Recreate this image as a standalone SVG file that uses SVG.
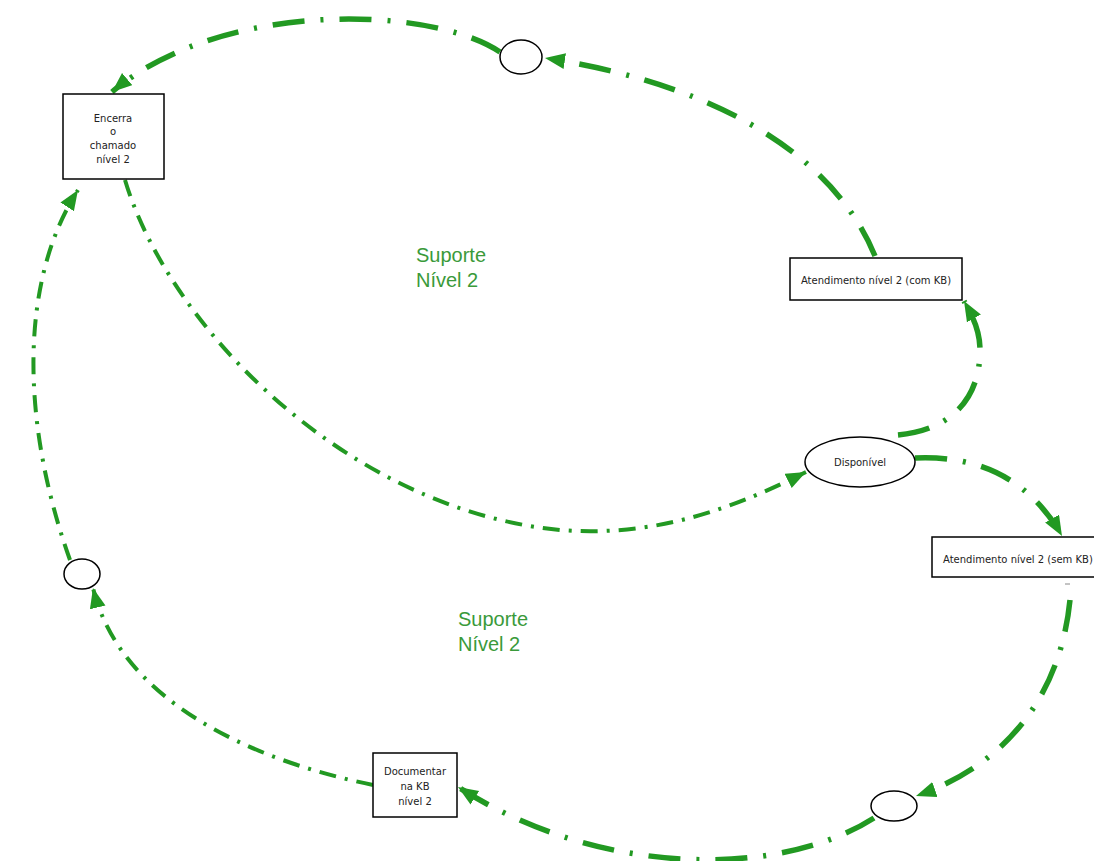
<svg xmlns="http://www.w3.org/2000/svg" width="1094" height="861" viewBox="0 0 1094 861">
  <style>
    .bg { fill: #ffffff; }
    .box { fill: #ffffff; stroke: #000000; stroke-width: 1.5; }
    .oval { fill: #ffffff; stroke: #000000; stroke-width: 1.5; }
    .lbl { font-family: "DejaVu Sans", "Liberation Sans", sans-serif; font-size: 10px; fill: #222222; text-anchor: middle; }
    .zone { font-family: "Liberation Sans", Arial, sans-serif; font-size: 20px; fill: #3a9a3a; }
    .link { fill: none; stroke: #229922; stroke-linecap: butt; marker-end: url(#head); }
    .thin { stroke-width: 4; stroke-dasharray: 17 9 3 9; }
    .thick { stroke-width: 5.5; stroke-dasharray: 32 16 3 16; }
  </style>
  <defs>
    <marker id="head" markerUnits="userSpaceOnUse" markerWidth="22" markerHeight="18" refX="20" refY="8" orient="auto">
      <path d="M0,0 L20,8 L0,16 z" fill="#229922"/>
    </marker>
  </defs>

  <rect class="bg" x="0" y="0" width="1094" height="861"/>

  <!-- zone captions -->
  <text class="zone" x="416" y="262">Suporte</text>
  <text class="zone" x="416" y="287">Nível 2</text>
  <text class="zone" x="458" y="626">Suporte</text>
  <text class="zone" x="458" y="651">Nível 2</text>

  <!-- connectors -->
  <g id="connectors">
    <path class="link thick" d="M875,256 C840,170 740,88 545,58"/>
    <path class="link thick" d="M500,52 C430,5 220,0 112,92"/>
    <path class="link thin" d="M125,180 C170,330 350,510 560,530 C660,538 740,505 806,472"/>
    <path class="link thick" d="M898,435 C950,430 980,400 980,350 C980,330 972,315 964,301"/>
    <path class="link thick" d="M915,458 C980,455 1030,480 1062,536"/>
    <path class="link thick" d="M1070,600 C1062,680 1020,760 916,796"/>
    <path class="link thick" d="M874,818 C780,878 600,878 458,787"/>
    <path class="link thin" d="M373,785 C250,760 120,700 93,588"/>
    <path class="link thin" d="M70,560 C20,420 20,280 78,190"/>
  </g>

  <!-- nodes -->
  <g id="encerra">
    <rect class="box" x="63" y="94" width="101" height="85"/>
    <text class="lbl" x="113" y="122">Encerra</text>
    <text class="lbl" x="113" y="135">o</text>
    <text class="lbl" x="113" y="149">chamado</text>
    <text class="lbl" x="113" y="163">nível 2</text>
  </g>

  <g id="junction-top">
    <ellipse class="oval" cx="521" cy="57" rx="21" ry="17"/>
  </g>

  <g id="atendimento-com-kb">
    <rect class="box" x="790" y="258" width="172" height="42"/>
    <text class="lbl" x="876" y="284">Atendimento nível 2 (com KB)</text>
  </g>

  <g id="disponivel">
    <ellipse class="oval" cx="860" cy="462" rx="55" ry="25"/>
    <text class="lbl" x="860" y="466">Disponível</text>
  </g>

  <g id="atendimento-sem-kb">
    <rect class="box" x="932" y="537" width="170" height="40"/>
    <text class="lbl" x="943" y="563" style="text-anchor:start">Atendimento nível 2 (sem KB)</text>
    <line x1="1065" y1="584" x2="1070" y2="584" stroke="#888888" stroke-width="1"/>
  </g>

  <g id="junction-bottom">
    <ellipse class="oval" cx="894" cy="806" rx="23" ry="15"/>
  </g>

  <g id="documentar">
    <rect class="box" x="373" y="753" width="84" height="64"/>
    <text class="lbl" x="415" y="775">Documentar</text>
    <text class="lbl" x="415" y="790">na KB</text>
    <text class="lbl" x="415" y="805">nível 2</text>
  </g>

  <g id="junction-left">
    <ellipse class="oval" cx="82" cy="574" rx="18" ry="15"/>
  </g>
</svg>
